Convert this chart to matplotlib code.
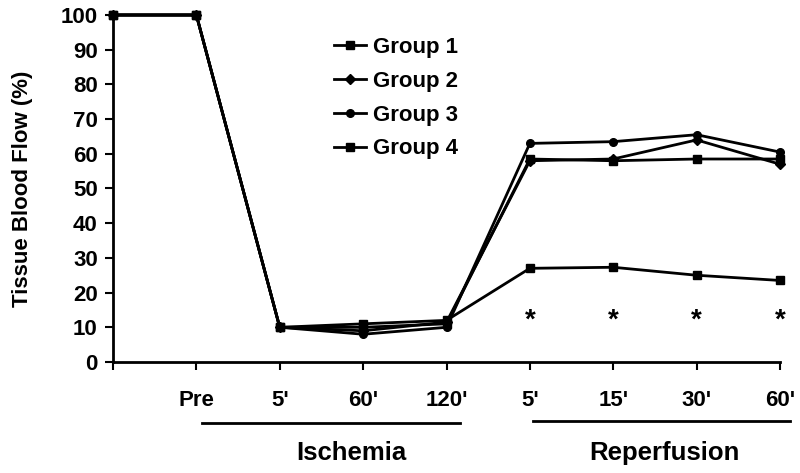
import matplotlib.pyplot as plt
import numpy as np

plt.rcParams['font.family'] = ['Liberation Sans', 'DejaVu Sans']
plt.rcParams['font.weight'] = 'bold'

# ------- Data -------
x_labels = ['', 'Pre', "5'", "60'", "120'", "5'", "15'", "30'", "60'"]
group1 = [100, 100, 10, 10, 11, 58.5, 58, 58.5, 58.5]
group2 = [100, 100, 10, 9, 11.5, 58, 58.5, 64, 57]
group3 = [100, 100, 10, 8, 10, 63, 63.5, 65.5, 60.5]
group4 = [100, 100, 10, 11, 12, 27, 27.3, 25, 23.5]
groups = {'Group 1': (group1, 's'), 'Group 2': (group2, 'D'),
          'Group 3': (group3, 'o'), 'Group 4': (group4, 's')}
star_idx = [5, 6, 7, 8]
star_y = 12

x = np.arange(len(x_labels))

fig = plt.figure(figsize=(8, 4.73), dpi=100)
ax = fig.add_axes([113 / 800, 1 - 362 / 473, (780 - 113) / 800, (362 - 15) / 473])

for name, (vals, mk) in groups.items():
    ax.plot(x, vals, color='black', lw=2, marker=mk, ms=5.5, label=name, clip_on=False)

for i in star_idx:
    ax.text(x[i], star_y, '*', ha='center', va='center', fontsize=20, fontweight='bold')

ax.set_xlim(0, 8)
ax.set_ylim(0, 100)
ax.set_yticks(range(0, 101, 10))
ax.set_xticks(x)
ax.set_xticklabels(x_labels)
ax.spines['top'].set_visible(False)
ax.spines['right'].set_visible(False)
ax.spines['left'].set_linewidth(2)
ax.spines['bottom'].set_linewidth(2)
ax.tick_params(axis='both', width=1.5, length=6)
ax.tick_params(axis='y', labelsize=16, pad=5)
ax.tick_params(axis='x', labelsize=16, pad=14)
ax.set_ylabel('Tissue Blood Flow (%)', fontsize=16, fontweight='bold', labelpad=20)

leg = ax.legend(loc='upper left', bbox_to_anchor=(0.302, 0.995), frameon=False,
                fontsize=16, handlelength=1.4, handletextpad=0.35, labelspacing=0.58)

# period brackets under the axis
fig.add_artist(plt.Line2D([202 / 800, 460 / 800], [1 - 423 / 473] * 2, color='black', lw=2))
fig.add_artist(plt.Line2D([533 / 800, 790 / 800], [1 - 421 / 473] * 2, color='black', lw=2))
fig.text(351 / 800, 1 - 453 / 473, 'Ischemia', ha='center', va='center', fontsize=18.5, fontweight='bold')
fig.text(664 / 800, 1 - 453 / 473, 'Reperfusion', ha='center', va='center', fontsize=18.5, fontweight='bold')

fig.savefig('out.png', dpi=100)
